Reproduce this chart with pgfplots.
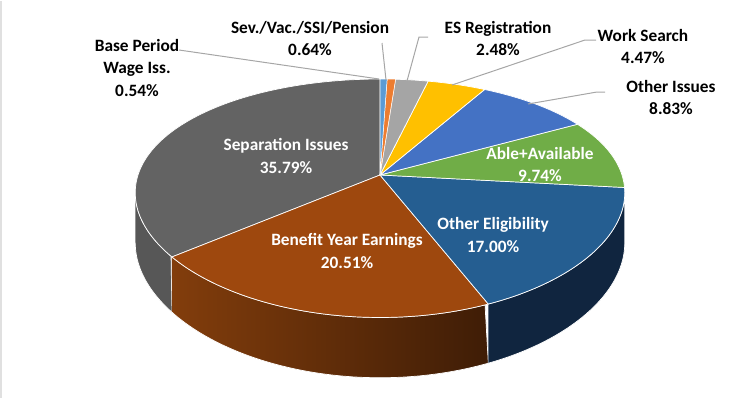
\documentclass[border=0pt]{standalone}
\usepackage{pgfplots}
\pgfplotsset{compat=1.18}
\usepackage{fontspec}
\setmainfont{Carlito}

\definecolor{cBase}{HTML}{5B9BD5}
\definecolor{cSev}{HTML}{ED7D31}
\definecolor{cES}{HTML}{A5A5A5}
\definecolor{cWS}{HTML}{FFC000}
\definecolor{cOI}{HTML}{4472C4}
\definecolor{cAA}{HTML}{70AD47}
\definecolor{cOE}{HTML}{255E91}
\definecolor{cBYE}{HTML}{9E480E}
\definecolor{cSep}{HTML}{636363}
\definecolor{cSepSide}{HTML}{575757}
\definecolor{cOESide}{HTML}{10253F}
\definecolor{cBYEL}{HTML}{823D0C}
\definecolor{cBYER}{HTML}{3F1D06}
\definecolor{leader}{HTML}{A6A6A6}

% data (percent of total), clockwise from 12 o'clock
\def\vBase{0.54}
\def\vSev{0.64}
\def\vES{2.48}
\def\vWS{4.47}
\def\vOI{8.83}
\def\vAA{9.74}
\def\vOE{17.00}
\def\vBYE{20.51}
\def\vSep{35.79}

\pgfmathsetmacro\aA{90-3.6*\vBase}
\pgfmathsetmacro\aB{\aA-3.6*\vSev}
\pgfmathsetmacro\aC{\aB-3.6*\vES}
\pgfmathsetmacro\aD{\aC-3.6*\vWS}
\pgfmathsetmacro\aE{\aD-3.6*\vOI}
\pgfmathsetmacro\aF{\aE-3.6*\vAA}
\pgfmathsetmacro\aG{\aF-3.6*\vOE}
\pgfmathsetmacro\aH{\aG-3.6*\vBYE}
\pgfmathsetmacro\aI{\aH-3.6*\vSep}

\tikzset{
  declare function={
    px(\t)=380+242*cos(\t)/(1+0.15*sin(\t));
    py(\t)=174-114.7*sin(\t)/(1+0.195*sin(\t));
    pb(\t)=py(\t)+48.5/(1+0.195*sin(\t));
    sT(\s,\a,\b)=ifthenelse(\s<1,\a+(\b-\a)*\s,\b-(\b-\a)*(\s-1));
    sY(\s,\a,\b)=ifthenelse(\s<1,py(sT(\s,\a,\b)),pb(sT(\s,\a,\b)));
  },
  lbl/.style={font=\fontsize{17.3bp}{22.5bp}\selectfont\bfseries, align=center, inner sep=0pt},
}

\begin{document}
\begin{tikzpicture}
\begin{axis}[
  width=750bp, height=397bp, scale only axis,
  xmin=0, xmax=750, ymin=0, ymax=397, y dir=reverse,
  axis lines=none, ticks=none, clip=false,
  every axis plot/.append style={no markers, line join=round},
]
\path (axis cs:0,0) rectangle (axis cs:750,397);
\draw[black!12, line width=2bp] (axis cs:1,0) -- (axis cs:1,397);

% ---- side walls (front, visible part) ----
\addplot[fill=cSepSide, draw=white, line width=0.7bp, domain=0:2, samples=161, variable=\s]
  ({px(sT(\s,-171.37,\aH))},{sY(\s,-171.37,\aH)});
\addplot[left color=cBYEL, right color=cBYER, draw=white, line width=0.7bp, domain=0:2, samples=201, variable=\s]
  ({px(sT(\s,\aH,\aG))},{sY(\s,\aH,\aG)});
\addplot[fill=cOESide, draw=white, line width=0.7bp, domain=0:2, samples=201, variable=\s]
  ({px(sT(\s,\aG,-8.63))},{sY(\s,\aG,-8.63)});

% ---- top faces ----
\addplot[fill=cSep, draw=white, line width=0.7bp, domain=\aI:\aH, samples=90, variable=\t]
  ({px(\t)},{py(\t)}) -- (axis cs:380,174) -- cycle;
\addplot[fill=cBYE, draw=white, line width=0.7bp, domain=\aH:\aG, samples=60, variable=\t]
  ({px(\t)},{py(\t)}) -- (axis cs:380,174) -- cycle;
\addplot[fill=cOE, draw=white, line width=0.7bp, domain=\aG:\aF, samples=50, variable=\t]
  ({px(\t)},{py(\t)}) -- (axis cs:380,174) -- cycle;
\addplot[fill=cAA, draw=white, line width=0.7bp, domain=\aF:\aE, samples=30, variable=\t]
  ({px(\t)},{py(\t)}) -- (axis cs:380,174) -- cycle;
\addplot[fill=cOI, draw=white, line width=0.7bp, domain=\aE:\aD, samples=30, variable=\t]
  ({px(\t)},{py(\t)}) -- (axis cs:380,174) -- cycle;
\addplot[fill=cWS, draw=white, line width=0.7bp, domain=\aD:\aC, samples=15, variable=\t]
  ({px(\t)},{py(\t)}) -- (axis cs:380,174) -- cycle;
\addplot[fill=cES, draw=white, line width=0.7bp, domain=\aC:\aB, samples=8, variable=\t]
  ({px(\t)},{py(\t)}) -- (axis cs:380,174) -- cycle;
\addplot[fill=cSev, draw=white, line width=0.5bp, domain=\aB:\aA, samples=4, variable=\t]
  ({px(\t)},{py(\t)}) -- (axis cs:380,174) -- cycle;
\addplot[fill=cBase, draw=white, line width=0.5bp, domain=\aA:90, samples=4, variable=\t]
  ({px(\t)},{py(\t)}) -- (axis cs:380,174) -- cycle;

% ---- leader lines ----
\draw[leader, line width=1bp] (axis cs:179,49) -- (axis cs:379,78);
\draw[leader, line width=1bp] (axis cs:382,42) -- (axis cs:386,79);
\draw[leader, line width=1bp] (axis cs:428,36) -- (axis cs:419,36) -- (axis cs:407,80);
\draw[leader, line width=1bp] (axis cs:596,39) -- (axis cs:585,39) -- (axis cs:452,84);
\draw[leader, line width=1bp] (axis cs:605,91) -- (axis cs:597,91) -- (axis cs:528,103);

% ---- labels ----
\node[lbl] at (axis cs:137,67) {Base Period\\Wage Iss.\\\vBase\%};
\node[lbl] at (axis cs:310,37.5) {Sev./Vac./SSI/Pension\\\vSev\%};
\node[lbl] at (axis cs:498,37.5) {ES Registration\\\vES\%};
\node[lbl] at (axis cs:643,45.5) {Work Search\\\vWS\%};
\node[lbl] at (axis cs:671,96.5) {Other Issues\\\vOI\%};
\node[lbl, text=white] at (axis cs:286,155) {Separation Issues\\\vSep\%};
\node[lbl, text=white] at (axis cs:540,163.5) {Able+Available\\\vAA\%};
\node[lbl, text=white] at (axis cs:493,234) {Other Eligibility\\\vOE\%};
\node[lbl, text=white] at (axis cs:347,250) {Benefit Year Earnings\\\vBYE\%};
\end{axis}
\end{tikzpicture}
\end{document}
